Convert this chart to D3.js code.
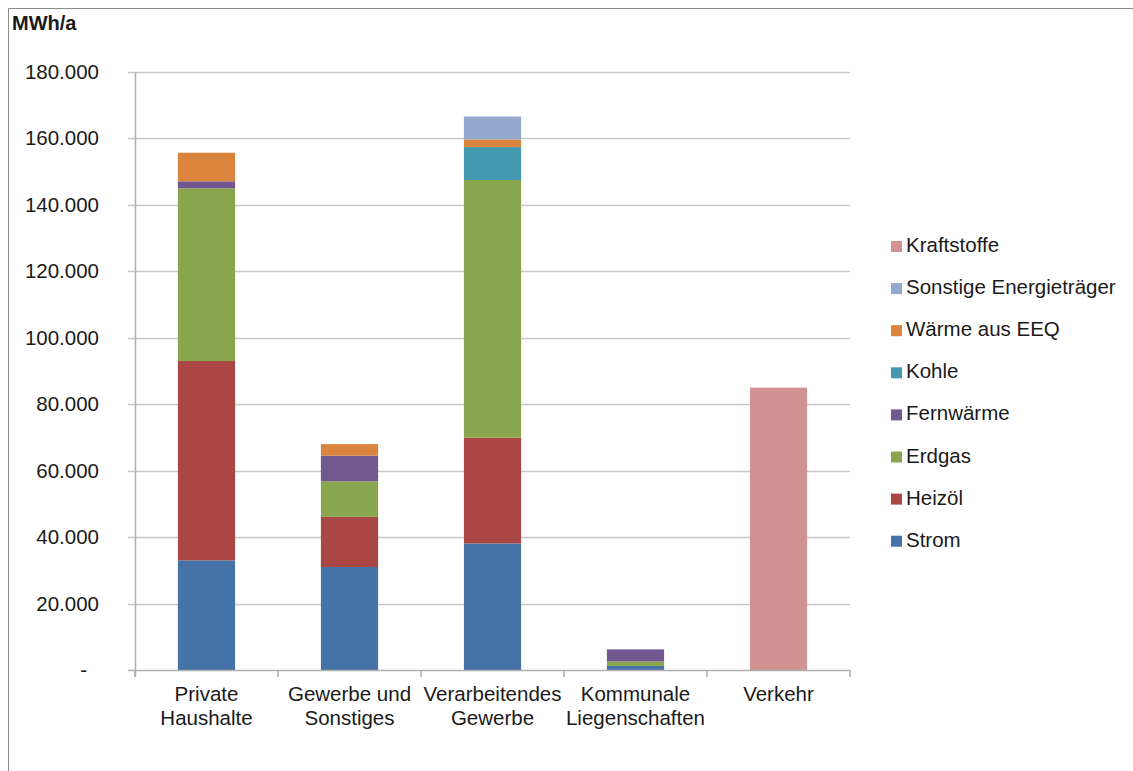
<!DOCTYPE html>
<html><head><meta charset="utf-8">
<script src="https://cdn.jsdelivr.net/npm/d3@7"></script>
<style>body{margin:0;background:#fff}svg{display:block}text{font-family:"Liberation Sans",Arial,sans-serif;fill:#1a1a1a}</style>
</head><body>
<svg id="c" width="1133" height="771"></svg>
<script>
const categories = [["Private","Haushalte"],["Gewerbe und","Sonstiges"],["Verarbeitendes","Gewerbe"],["Kommunale","Liegenschaften"],["Verkehr"]];
const seriesNames = ["Strom","Heizöl","Erdgas","Fernwärme","Kohle","Wärme aus EEQ","Sonstige Energieträger","Kraftstoffe"];
const seriesColors = ["#4572A7","#AA4643","#89A54E","#71588F","#4198AF","#DB843D","#93A9CF","#D19392"];
const strom      = [33000, 31000, 38100, 1200, 0];
const heizoel    = [60000, 15100, 31800, 0, 0];
const erdgas     = [52000, 10700, 77600, 1400, 0];
const fernwaerme = [2100, 7700, 0, 3600, 0];
const kohle      = [0, 0, 9900, 0, 0];
const waermeEEQ  = [8600, 3500, 2300, 0, 0];
const sonstige   = [0, 0, 6900, 0, 0];
const kraftstoffe= [0, 0, 0, 0, 85000];
const yTicks = [0,20000,40000,60000,80000,100000,120000,140000,160000,180000];
const yTickLabels = ["-","20.000","40.000","60.000","80.000","100.000","120.000","140.000","160.000","180.000"];
const yUnit = "MWh/a";

const allSeries = [strom,heizoel,erdgas,fernwaerme,kohle,waermeEEQ,sonstige,kraftstoffe];
const rows = categories.map((c,i)=>{const o={idx:i};seriesNames.forEach((s,j)=>o[s]=allSeries[j][i]);return o;});
const stack = d3.stack().keys(seriesNames)(rows);

const svg = d3.select("#c");
const L=135,R=850,T=72,B=670;
const x = d3.scaleBand().domain(d3.range(categories.length)).range([L,R]).paddingInner(0.6).paddingOuter(0.3);
const y = d3.scaleLinear().domain([0,180000]).range([B,T]);

// frame
svg.append("path").attr("d","M8.5,771 V8.5 H1133").attr("fill","none").attr("stroke","#8c8c8c").attr("stroke-width",1);

// gridlines
svg.append("g").selectAll("line").data(yTicks.slice(1)).join("line")
 .attr("x1",L-7).attr("x2",R).attr("y1",d=>Math.round(y(d))+0.5).attr("y2",d=>Math.round(y(d))+0.5)
 .attr("stroke","#c8c8c8").attr("stroke-width",1.5);

// bars
svg.append("g").selectAll("g").data(stack).join("g").attr("fill",(d,i)=>seriesColors[i])
 .selectAll("rect").data(d=>d.filter(p=>p[1]-p[0]>0)).join("rect")
 .attr("x",d=>x(d.data.idx)).attr("width",x.bandwidth())
 .attr("y",d=>y(d[1])).attr("height",d=>y(d[0])-y(d[1]));

// axes
svg.append("line").attr("x1",L+0.5).attr("x2",L+0.5).attr("y1",T).attr("y2",B+7).attr("stroke","#b0b0b0").attr("stroke-width",1.5);
svg.append("line").attr("x1",L-7).attr("x2",R).attr("y1",B+0.5).attr("y2",B+0.5).attr("stroke","#b0b0b0").attr("stroke-width",1.5);
const step = x.step();
svg.append("g").selectAll("line").data(d3.range(categories.length+1)).join("line")
 .attr("x1",i=>L+i*step).attr("x2",i=>L+i*step).attr("y1",B).attr("y2",B+7).attr("stroke","#b0b0b0").attr("stroke-width",1.5);

// y labels
svg.append("g").selectAll("text").data(yTicks).join("text")
 .attr("x",99).attr("y",d=>y(d)+7).attr("dx",d=>d===0?-12:0).attr("text-anchor","end").attr("font-size",20.5)
 .text((d,i)=>yTickLabels[i]);
svg.append("text").attr("x",12).attr("y",30).attr("font-size",20).attr("font-weight","bold").text(yUnit);

// x labels
const xl = svg.append("g").selectAll("text").data(categories).join("text")
 .attr("x",(d,i)=>x(i)+x.bandwidth()/2).attr("y",701).attr("text-anchor","middle").attr("font-size",20.5);
xl.selectAll("tspan").data(d=>d).join("tspan").attr("x",function(){return this.parentNode.getAttribute("x");})
 .attr("dy",(d,i)=>i?23.5:0).text(d=>d);

// legend
const order = seriesNames.map((s,i)=>i).reverse();
const lg = svg.append("g").selectAll("g").data(order).join("g").attr("transform",(d,k)=>`translate(891,${252+k*42.1})`);
lg.append("rect").attr("x",0).attr("y",-11).attr("width",11).attr("height",11).attr("fill",d=>seriesColors[d]);
lg.append("text").attr("x",15).attr("y",0).attr("font-size",20.5).text(d=>seriesNames[d]);
</script>
</body></html>
